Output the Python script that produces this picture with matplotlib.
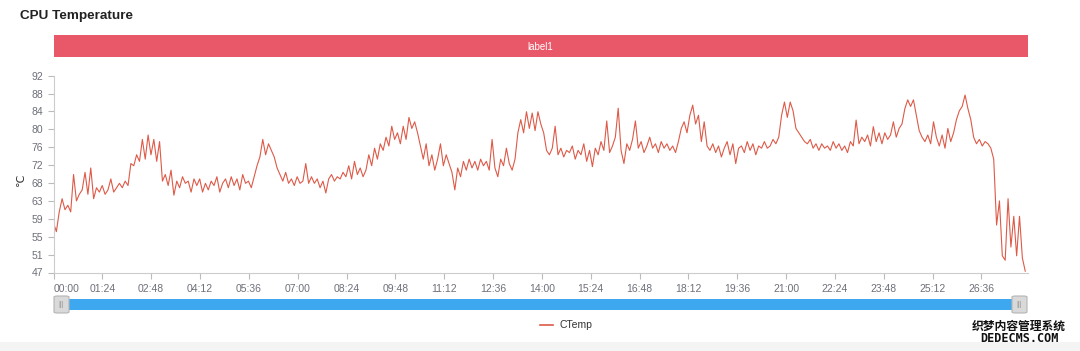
import matplotlib
matplotlib.use("Agg")
import matplotlib.pyplot as plt
from matplotlib.patches import FancyBboxPatch, Rectangle
import numpy as np

plt.rcParams['font.family'] = ['Liberation Sans', 'DejaVu Sans', 'Noto Sans CJK SC']

# CPU temperature samples (deg C)
temps = [
    58.5, 56.5, 61, 64, 61.5, 62.5, 61, 69.5, 63.5, 65,
    66, 70, 65, 71, 64, 66.5, 65.5, 67, 65, 66,
    68.5, 65.5, 66.5, 67.5, 66.5, 68, 67, 72, 71.5, 74,
    72.5, 77.5, 73, 78.5, 74, 77.5, 72.5, 77, 68, 69.5,
    67, 70.5, 64.8, 68, 66.5, 69, 67.5, 68, 65.5, 68.5,
    67, 68.5, 65.5, 67.5, 66, 68, 67, 69, 65.5, 67.5,
    68.5, 66.5, 69, 67, 68.5, 66, 69.5, 67.5, 68, 66.5,
    69, 71.5, 73.5, 77.5, 74, 76.5, 75, 73.5, 71, 69.5,
    68, 70, 67.5, 68.5, 67, 69, 67.5, 68, 72, 67.5,
    69, 67.5, 68.5, 66.5, 68, 65.3, 68.5, 69.5, 68, 69,
    68.5, 70, 69, 71.5, 68.5, 72.5, 69.5, 71, 69, 70.5,
    74, 71.5, 75.5, 73, 76.5, 75, 78, 76, 80.5, 77.5,
    79, 76.5, 80.5, 77.5, 82.5, 80, 81.5, 79, 76, 73,
    76.5, 71.5, 74, 70.5, 73, 76.5, 71.5, 74, 72, 70,
    66, 71, 69, 72.5, 70.5, 73, 71, 72.5, 70.5, 73,
    71.5, 72.5, 70.5, 77.5, 71, 69, 73, 71.5, 75.5, 72,
    70.5, 73, 79, 82, 79, 83.8, 80, 83.5, 79.5, 83.8,
    81, 79, 75, 74, 75.5, 80.5, 74, 75.5, 73.5, 75,
    74.5, 76, 73, 75, 74, 76.5, 72.5, 75, 71.3, 75.5,
    74, 77, 75, 81.7, 74.5, 76, 78, 84.6, 75, 72,
    76.5, 75, 77.5, 81.7, 75.5, 77, 74.5, 76, 78, 75.5,
    76.5, 74.5, 77, 75.5, 76.5, 75, 76, 74.5, 77, 80,
    81.5, 79, 83, 85.3, 81, 83, 77, 81.5, 76, 75,
    76.5, 74.5, 76, 73.5, 75.5, 77, 74, 76.5, 72, 75.5,
    76, 74.5, 77, 75, 76.5, 74, 76, 75.5, 77, 75.5,
    76, 77.5, 76.5, 78, 83, 86, 82.5, 86, 84, 80,
    79, 78, 77, 76.5, 77.5, 75.5, 76.5, 75, 76.5, 75.5,
    76, 75, 77, 75.5, 76.5, 75, 76, 74.5, 77, 76,
    81.9, 76.5, 78, 77, 78.5, 76, 80.4, 77, 79, 76.5,
    79, 77.5, 78.5, 81.5, 78, 80, 81, 84.5, 86.5, 85,
    86.5, 83, 79.5, 78, 77, 78.5, 76.5, 81.5, 78, 76,
    78.5, 75.5, 80, 77, 79, 82, 84, 85, 87.6, 84.5,
    82, 78, 76.5, 77.5, 76, 77, 76.5, 75.5, 73, 58,
    63.5, 51, 50, 64, 53, 60, 51, 60, 50.5, 47.5,
]
sample_sec = 4.93
x_end = 1676

x_labels = ['00:00', '01:24', '02:48', '04:12', '05:36', '07:00', '08:24', '09:48',
            '11:12', '12:36', '14:00', '15:24', '16:48', '18:12', '19:36', '21:00',
            '22:24', '23:48', '25:12', '26:36']
y_labels = ['47', '51', '55', '59', '63', '68', '72', '76', '80', '84', '88', '92']
y_min, y_max = 47.2, 92

t = np.arange(len(temps)) * sample_sec
xticks = [int(s[:2]) * 60 + int(s[3:]) for s in x_labels]

W, H = 1080, 351
fig = plt.figure(figsize=(W / 100, H / 100), dpi=100)
fig.patch.set_facecolor('white')

def fx(px):
    return px / W

def fy(py):
    return 1 - py / H

line_color = '#dd5a48'
grey = '#6e7079'

ax = fig.add_axes([fx(53.5), fy(272.5), fx(1028 - 53.5), (272.5 - 75.7) / H])
ax.plot(t, temps, color=line_color, linewidth=0.8)
ax.set_xlim(0, x_end)
ax.set_ylim(y_min, y_max)
ax.set_yticks(np.linspace(y_min, y_max, len(y_labels)))
ax.set_yticklabels(y_labels)
ax.set_xticks(xticks)
ax.set_xticklabels(x_labels)
ax.get_xticklabels()[0].set_horizontalalignment('left')
for s in ['top', 'right']:
    ax.spines[s].set_visible(False)
for s in ['left', 'bottom']:
    ax.spines[s].set_color('#cccccc')
    ax.spines[s].set_linewidth(0.8)
ax.tick_params(axis='both', colors='#bbbbbb', labelcolor=grey, labelsize=7.5,
               length=4, width=0.8)
ax.tick_params(axis='x', pad=4)

# title and label banner
fig.text(fx(20), fy(16), 'CPU Temperature', fontsize=9.7, fontweight='bold',
         color='#222222', va='center', ha='left')
fig.patches.append(Rectangle((fx(53.5), fy(57.3)), fx(1028 - 53.5), (57.3 - 35) / H,
                             transform=fig.transFigure, facecolor='#e95868',
                             edgecolor='none'))
fig.text(fx(540), fy(46.5), 'label1', fontsize=7, color='white', ha='center', va='center')

fig.text(fx(21), fy(180), '℃', fontsize=8, color='#333333', rotation=90,
         ha='center', va='center')

# data zoom slider
fig.patches.append(Rectangle((fx(53.5), fy(310)), fx(1026 - 53.5), 11 / H,
                             transform=fig.transFigure, facecolor='#3da8f0',
                             edgecolor='none'))
for hx in [54, 1012]:
    fig.patches.append(FancyBboxPatch((fx(hx), fy(313)), fx(15), 17 / H,
                                      boxstyle='round,pad=0,rounding_size=0.003',
                                      transform=fig.transFigure, facecolor='#d9d9d9',
                                      edgecolor='#b5b5b5', linewidth=0.8))
    fig.text(fx(hx + 7.5), fy(304.5), '|||', fontsize=5, color='#999999',
             ha='center', va='center')

# legend
fig.lines.append(plt.Line2D([fx(540), fx(553)], [fy(325), fy(325)],
                            transform=fig.transFigure, color=line_color, linewidth=1.2))
fig.text(fx(560), fy(325), 'CTemp', fontsize=7.5, color='#333333', ha='left', va='center')

# bottom band and watermark
fig.patches.append(Rectangle((0, 0), 1, 9 / H, transform=fig.transFigure,
                             facecolor='#f4f4f4', edgecolor='none'))
fig.text(fx(1019), fy(326), '织梦内容管理系统', fontsize=8.5, fontweight='bold',
         family=['Noto Sans CJK SC'], color='#111111', ha='center', va='center')
fig.text(fx(1019), fy(338.5), 'DEDECMS.COM', fontsize=8.5, fontweight='bold',
         family=['DejaVu Sans Mono'], color='#111111', ha='center', va='center')

fig.savefig('out.png', dpi=100)
